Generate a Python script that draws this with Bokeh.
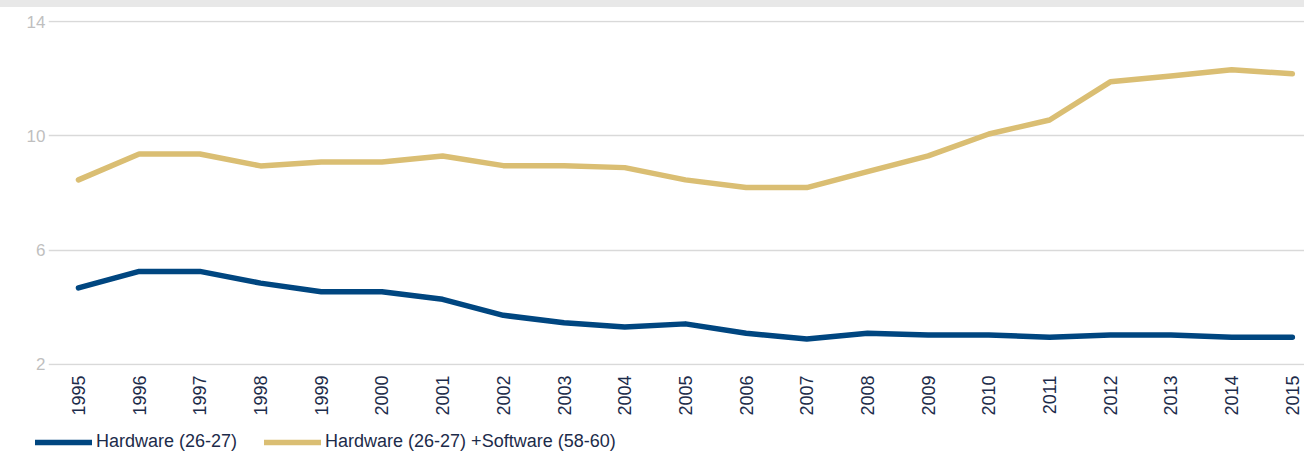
import math
from bokeh.plotting import figure
from bokeh.models import Range1d, FixedTicker, Legend, LegendItem, Div
from bokeh.layouts import column, row
from bokeh.embed import file_html
from bokeh.resources import INLINE

years = list(range(1995, 2016))
hardware = [4.67, 5.25, 5.25, 4.84, 4.54, 4.54, 4.27, 3.71, 3.45, 3.30, 3.41,
            3.08, 2.88, 3.08, 3.02, 3.02, 2.94, 3.02, 3.02, 2.94, 2.94]
hw_sw = [8.46, 9.37, 9.37, 8.95, 9.09, 9.09, 9.30, 8.96, 8.96, 8.89, 8.46,
         8.19, 8.19, 8.75, 9.30, 10.07, 10.56, 11.90, 12.10, 12.32, 12.18]
y_ticks = [2, 6, 10, 14]
series_names = ["Hardware (26-27)", "Hardware (26-27) +Software (58-60)"]

FONT = "Liberation Sans"
BLUE = "#004680"
GOLD = "#dabe73"
NAVY = "#1c2b4a"
W = 1304

band = Div(text="", width=W, height=7, margin=0,
           styles={"background-color": "#e8e8e8"})

p = figure(width=W, height=411, output_backend="svg", toolbar_location=None,
           x_range=Range1d(1994.506, 2015.2), y_range=Range1d(1.95, 14.05),
           min_border_left=48, min_border_right=0, min_border_top=13,
           min_border_bottom=53, margin=0)
p.outline_line_color = None
p.background_fill_color = "white"
p.border_fill_color = "white"

r1 = p.line(years, hardware, line_color=BLUE, line_width=5.5,
            line_cap="round", line_join="round")
r2 = p.line(years, hw_sw, line_color=GOLD, line_width=5.5,
            line_cap="round", line_join="round")

p.xaxis.ticker = FixedTicker(ticks=years)
p.xaxis.major_label_orientation = math.pi / 2
p.xaxis.axis_line_color = None
p.xaxis.major_tick_line_color = None
p.xaxis.minor_tick_line_color = None
p.xaxis.major_tick_out = 0
p.xaxis.major_tick_in = 0
p.xaxis.major_label_standoff = 10
p.xaxis.major_label_text_color = NAVY
p.xaxis.major_label_text_font = FONT
p.xaxis.major_label_text_font_size = "18px"

p.yaxis.ticker = FixedTicker(ticks=y_ticks)
p.yaxis.axis_line_color = None
p.yaxis.major_tick_line_color = None
p.yaxis.minor_tick_line_color = None
p.yaxis.major_tick_out = 0
p.yaxis.major_tick_in = 0
p.yaxis.major_label_standoff = 3
p.yaxis.major_label_text_color = "#bfbfbf"
p.yaxis.major_label_text_font = FONT
p.yaxis.major_label_text_font_size = "17px"

p.xgrid.grid_line_color = None
p.ygrid.grid_line_color = "#d9d9d9"
p.ygrid.grid_line_width = 1.5

# legend strip (same series, drawn outside its visible range)
pl = figure(width=W, height=34, output_backend="svg", toolbar_location=None,
            x_range=Range1d(0, 1), y_range=Range1d(0, 1),
            x_axis_type=None, y_axis_type=None,
            min_border=0, margin=0)
pl.outline_line_color = None
pl.grid.visible = False
l1 = pl.line(years, hardware, line_color=BLUE, line_width=5.5, line_cap="round")
l2 = pl.line(years, hw_sw, line_color=GOLD, line_width=5.5, line_cap="round")

legend = Legend(items=[LegendItem(label=series_names[0], renderers=[l1]),
                       LegendItem(label=series_names[1], renderers=[l2])],
                orientation="horizontal", location=(35, 0),
                glyph_width=57, glyph_height=20, label_standoff=4, spacing=27,
                padding=0, margin=0, border_line_color=None,
                background_fill_alpha=0,
                label_text_font=FONT, label_text_font_size="18px",
                label_text_color=NAVY)
pl.add_layout(legend, "center")

layout = column(band, p, row(pl, spacing=0, margin=0), spacing=0, margin=0)
html = file_html(layout, INLINE)
open("out.html", "w").write(html)
